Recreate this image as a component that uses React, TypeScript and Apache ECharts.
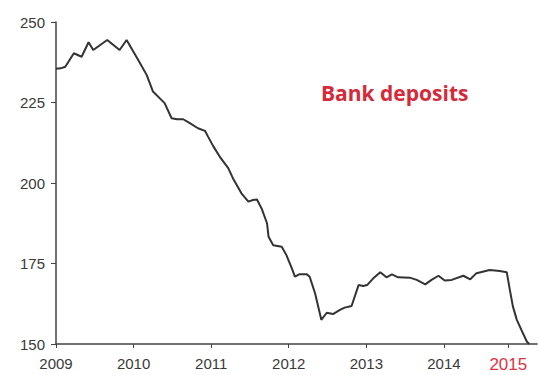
import React, { useEffect, useRef } from "react";
import * as echarts from "echarts";

const years = [
  2009.0, 2009.06, 2009.12, 2009.23, 2009.33, 2009.42, 2009.48, 2009.66, 2009.82, 2009.91,
  2010.06, 2010.17, 2010.25, 2010.4, 2010.49, 2010.56, 2010.64, 2010.73, 2010.83, 2010.92,
  2010.96, 2011.03, 2011.11, 2011.22, 2011.28, 2011.39, 2011.48, 2011.54, 2011.59, 2011.65,
  2011.72, 2011.74, 2011.8, 2011.91, 2011.97, 2012.04, 2012.08, 2012.14, 2012.23, 2012.27,
  2012.34, 2012.42, 2012.49, 2012.57, 2012.66, 2012.72, 2012.81, 2012.9, 2012.96, 2013.01,
  2013.09, 2013.18, 2013.26, 2013.33, 2013.41, 2013.56, 2013.65, 2013.76, 2013.84, 2013.93,
  2014.01, 2014.1, 2014.25, 2014.34, 2014.42, 2014.59, 2014.72, 2014.81, 2014.85, 2014.89,
  2014.94, 2015.0, 2015.07, 2015.1,
];
const deposits = [
  235.5, 235.6, 236.1, 240.3, 239.2, 243.7, 241.3, 244.4, 241.3, 244.4,
  238.2, 233.5, 228.4, 224.8, 220.1, 219.8, 219.8, 218.5, 217.0, 216.2,
  214.4, 211.3, 208.2, 204.6, 201.5, 196.8, 194.2, 194.7, 194.9, 192.1,
  187.5, 183.3, 180.7, 180.2, 177.6, 173.5, 170.9, 171.7, 171.7, 170.9,
  165.7, 157.5, 159.7, 159.3, 160.6, 161.3, 161.8, 168.3, 168.0, 168.3,
  170.4, 172.3, 170.7, 171.6, 170.7, 170.6, 169.9, 168.5, 169.9, 171.2,
  169.7, 169.9, 171.2, 170.1, 172.0, 173.0, 172.7, 172.3, 166.8, 161.6,
  157.5, 154.3, 150.7, 150.0,
];
const xTickValues = [2009, 2010, 2011, 2012, 2013, 2014, 2014.83];
const xTickLabels = ["2009", "2010", "2011", "2012", "2013", "2014", "2015"];
const title = "Bank deposits";

export default function App() {
  const ref = useRef<HTMLDivElement>(null);
  useEffect(() => {
    document.body.style.margin = "0";
    const chart = echarts.init(ref.current!, null, { renderer: "svg" });
    const labelFont = "'Liberation Sans', Arial, sans-serif";
    chart.setOption({
      animation: false,
      grid: { left: 56, right: 1, top: 22, bottom: 31, containLabel: false },
      title: {
        text: title,
        left: 316,
        top: 77,
        textStyle: { color: "#d42a3a", fontFamily: "'Open Sans', Lato, sans-serif", fontWeight: "bold", fontSize: 21 },
      },
      xAxis: {
        type: "value",
        min: 2009,
        max: 2015.2,
        splitLine: { show: false },
        axisLine: { lineStyle: { color: "#444", width: 1.5 } },
        axisTick: { show: true, customValues: xTickValues, length: 4, lineStyle: { color: "#444" } },
        axisLabel: {
          customValues: xTickValues,
          margin: 12,
          fontSize: 15,
          color: "#3a3a3a",
          fontFamily: labelFont,
          formatter: (v: number) => {
            const i = xTickValues.findIndex((t) => Math.abs(t - v) < 1e-6);
            const s = i >= 0 ? xTickLabels[i] : "";
            return i === xTickValues.length - 1 ? "{r|" + s + "}" : s;
          },
          rich: { r: { color: "#e03344", fontSize: 17, fontFamily: labelFont } },
        },
      },
      yAxis: {
        type: "value",
        min: 150,
        max: 250,
        interval: 25,
        splitLine: { show: false },
        axisLine: { show: true, lineStyle: { color: "#444", width: 1.5 } },
        axisTick: { show: true, length: 5, lineStyle: { color: "#444" } },
        axisLabel: { margin: 11, fontSize: 15, color: "#3a3a3a", fontFamily: labelFont },
      },
      series: [
        {
          type: "line",
          data: years.map((y, i) => [y, deposits[i]]),
          symbol: "none",
          lineStyle: { color: "#333", width: 2 },
        },
      ],
    });
    return () => chart.dispose();
  }, []);
  return <div ref={ref} style={{ width: 538, height: 375 }} />;
}
